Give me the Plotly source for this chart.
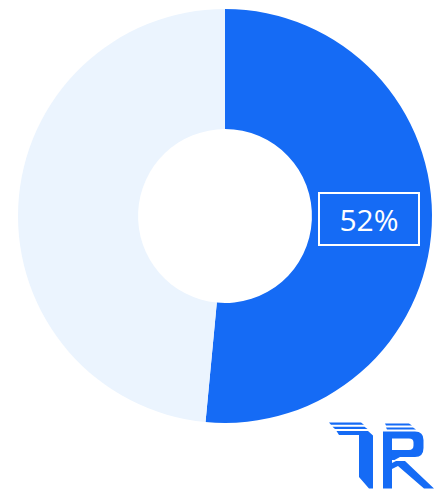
import plotly.graph_objects as go

# Share split shown in the donut
labels = ["Yes", "No"]
values = [51.5, 48.5]
colors = ["#156BF5", "#EBF4FE"]

W, H = 444, 492
cx, cy, R_OUT = 225, 216, 207
HOLE = 0.42

fig = go.Figure()
fig.add_trace(go.Pie(
    labels=labels,
    values=values,
    hole=HOLE,
    sort=False,
    direction="clockwise",
    rotation=0,
    textinfo="none",
    hoverinfo="skip",
    marker=dict(colors=colors, line=dict(width=0)),
    domain=dict(x=[(cx - R_OUT) / W, (cx + R_OUT) / W],
                y=[1 - (cy + R_OUT) / H, 1 - (cy - R_OUT) / H]),
    showlegend=False,
))

# Boxed percentage label on the blue slice
pct = 100 * values[0] / sum(values)
lx, ly = 368.5, 218.5
fig.add_annotation(
    x=lx / W, y=1 - ly / H, xref="paper", yref="paper",
    text=f"{pct:.0f}%", showarrow=False,
    font=dict(family="Open Sans", size=30, color="white"),
    bordercolor="white", borderwidth=2, borderpad=0,
    width=98, height=50, xanchor="center", yanchor="middle",
)


def px_path(cmds):
    """Convert a path written in pixel coordinates into paper coordinates."""
    out = []
    for c in cmds:
        if isinstance(c, str):
            out.append(c)
        else:
            x, y = c
            out.append(f"{x / W:.5f},{1 - y / H:.5f}")
    return " ".join(out)


LOGO = "#156BF5"
logo_paths = [
    # T: three stripes and the stem
    ["M", (329, 422.5), "L", (361, 422.5), "L", (364, 424.8), "L", (331, 424.8), "Z"],
    ["M", (332.5, 426.8), "L", (364.5, 426.8), "L", (367.5, 429), "L", (335, 429), "Z"],
    ["M", (336.5, 431), "L", (368, 431), "L", (373, 435.5), "L", (373, 488.5),
     "L", (369, 488.5), "L", (359, 477), "L", (359, 435), "L", (339, 435), "Z"],
    # R: stripes
    ["M", (385, 423.5), "L", (409, 423.5), "L", (412, 425.5), "L", (386, 425.5), "Z"],
    ["M", (386, 427.5), "L", (413, 427.5), "L", (416, 429.5), "L", (387, 429.5), "Z"],
    # R: stem
    ["M", (383, 431.5), "L", (392, 431.5), "L", (392, 488.5), "L", (383, 488.5), "Z"],
    # R: bowl with counter
    ["M", (392, 431.5), "L", (415, 431.5), "Q", (423.5, 431.5), (423.5, 440), "L", (423.5, 448),
     "Q", (423.5, 457), (415, 457), "L", (400, 457), "L", (394.5, 460), "L", (392, 460), "Z",
     "M", (392, 438.5), "L", (409, 438.5), "Q", (413.5, 438.5), (413.5, 442.5), "L", (413.5, 445.5),
     "Q", (413.5, 450), (409, 450), "L", (392, 450), "Z"],
    # R: leg
    ["M", (392, 463), "L", (396, 461), "L", (405, 461), "L", (434, 488.5), "L", (424, 488.5),
     "L", (398, 466), "L", (392, 469), "Z"],
]
for p in logo_paths:
    fig.add_shape(type="path", path=px_path(p), xref="paper", yref="paper",
                  fillcolor=LOGO, line=dict(width=0), layer="above")

fig.update_layout(
    width=W, height=H,
    margin=dict(l=0, r=0, t=0, b=0),
    paper_bgcolor="white",
    plot_bgcolor="white",
)
fig.write_html("out.html")
